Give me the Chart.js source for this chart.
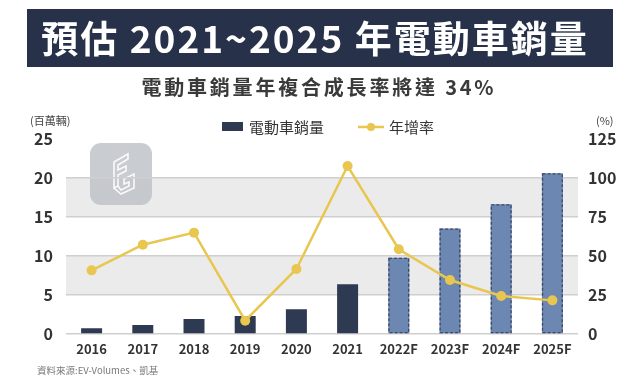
<!DOCTYPE html>
<html><head><meta charset="utf-8">
<script src="https://cdn.jsdelivr.net/npm/chart.js@4"></script>
<style>html,body{margin:0;padding:0;background:#fff;}#wrap{width:640px;height:383px;position:relative;}</style>
</head><body><div id="wrap"><canvas id="c" width="640" height="383"></canvas></div>
<script>
const categories = ['2016','2017','2018','2019','2020','2021','2022F','2023F','2024F','2025F'];
const salesValues = [0.75, 1.15, 1.92, 2.3, 3.16, 6.36, 9.76, 13.5, 16.6, 20.55];
const growthValues = [40.7, 57.1, 64.8, 8.5, 41.6, 107.4, 54.2, 34.5, 24.3, 21.5];
const isForecast = [false,false,false,false,false,false,true,true,true,true];
const leftTicks = [0,5,10,15,20,25];
const rightTicks = [0,25,50,75,100,125];
const titleText = '預估 2021~2025 年電動車銷量';
const subtitleText = '電動車銷量年複合成長率將達 34%';
const legendLabels = ['電動車銷量','年增率'];
const leftUnit = '(百萬輛)';
const rightUnit = '(%)';
const sourceText = '資料來源:EV-Volumes、凱基';

const FONT = '"Noto Sans CJK TC","Noto Sans",sans-serif';
const NAVY = '#2e3a52';
const FCAST = '#6c87b1';
const YELLOW = '#e8c64f';

function spacedText(ctx, text, cx, cy, spacing){
  ctx.letterSpacing = spacing + 'px';
  const w = ctx.measureText(text).width - spacing;
  ctx.textAlign = 'left';
  ctx.fillText(text, cx - w/2, cy);
  ctx.letterSpacing = '0px';
}

const deco = {
  id:'deco',
  beforeDraw(chart){
    const ctx = chart.ctx, ca = chart.chartArea, y = chart.scales.y;
    ctx.save();
    // bands
    ctx.fillStyle = '#ebebeb';
    [[5,10],[15,20]].forEach(([a,b])=>{
      const t = y.getPixelForValue(b), btm = y.getPixelForValue(a);
      ctx.fillRect(ca.left, t, ca.right-ca.left, btm-t);
    });
    // title box
    ctx.fillStyle = '#27324a';
    ctx.fillRect(27, 9, 586, 58);
    ctx.fillStyle = '#ffffff';
    ctx.font = 'bold 37px ' + FONT;
    ctx.textBaseline = 'middle';
    spacedText(ctx, titleText, 314, 38.5, 2);
    ctx.fillStyle = '#3a3a3a';
    ctx.font = 'bold 20px ' + FONT;
    spacedText(ctx, subtitleText, 317.5, 87.5, 2.8);
    // logo
    ctx.fillStyle = 'rgba(188,191,196,0.8)';
    ctx.beginPath();
    ctx.roundRect(90, 143, 62, 62, 11);
    ctx.fill();
    ctx.strokeStyle = 'rgba(255,255,255,0.9)';
    ctx.lineWidth = 1.6;
    ctx.beginPath();
    ctx.moveTo(114,162); ctx.lineTo(128,154); ctx.lineTo(128,159); ctx.lineTo(118,165);
    ctx.lineTo(118,170); ctx.lineTo(126,166); ctx.lineTo(126,171); ctx.lineTo(118,175);
    ctx.lineTo(118,186); ctx.lineTo(114,188); ctx.closePath(); ctx.stroke();
    ctx.beginPath();
    ctx.moveTo(114,188); ctx.lineTo(121,194); ctx.lineTo(134,188); ctx.lineTo(134,174);
    ctx.lineTo(124,179); ctx.lineTo(124,184); ctx.lineTo(129,182); ctx.lineTo(129,186);
    ctx.lineTo(121,190); ctx.lineTo(118,186); ctx.stroke();
    ctx.restore();
  },
  afterDatasetDraw(chart, args){
    if (args.index !== 0) return;
    const ctx = chart.ctx;
    const meta = chart.getDatasetMeta(0);
    ctx.save();
    ctx.strokeStyle = '#3b4966';
    ctx.lineWidth = 1.3;
    ctx.setLineDash([3,2]);
    meta.data.forEach((bar,i)=>{
      if(!isForecast[i]) return;
      const p = bar.getProps(['x','y','base','width'], true);
      const l = p.x - p.width/2, r = p.x + p.width/2;
      ctx.strokeRect(l+0.65, p.y+0.65, r-l-1.3, p.base-p.y-1.3);
    });
    ctx.restore();
  },
  afterDraw(chart){
    const ctx = chart.ctx;
    ctx.save();
    // legend
    ctx.fillStyle = NAVY;
    ctx.fillRect(222, 122, 21, 9);
    ctx.fillStyle = '#333';
    ctx.font = '15px ' + FONT;
    ctx.textAlign = 'left'; ctx.textBaseline = 'middle';
    ctx.fillText(legendLabels[0], 249, 127);
    ctx.strokeStyle = YELLOW; ctx.lineWidth = 2.5;
    ctx.beginPath(); ctx.moveTo(358,127); ctx.lineTo(384,127); ctx.stroke();
    ctx.fillStyle = YELLOW;
    ctx.beginPath(); ctx.arc(371,127,4,0,Math.PI*2); ctx.fill();
    ctx.fillStyle = '#333';
    ctx.fillText(legendLabels[1], 389, 127);
    // units
    ctx.fillStyle = '#444';
    ctx.font = '11px ' + FONT;
    ctx.textAlign = 'left';
    ctx.fillText(leftUnit, 30, 121);
    ctx.fillText(rightUnit, 596, 121);
    // source
    ctx.fillStyle = '#7a7a7a';
    ctx.font = '9.5px ' + FONT;
    ctx.fillText(sourceText, 37, 370);
    ctx.restore();
  }
};

new Chart(document.getElementById('c'), {
  data: {
    labels: categories,
    datasets: [
      {
        type:'bar', label: legendLabels[0], data: salesValues, yAxisID:'y', order: 1,
        backgroundColor: isForecast.map(f => f ? FCAST : NAVY),
        borderWidth: 0,
        categoryPercentage: 1, barPercentage: 0.41
      },
      {
        type:'line', label: legendLabels[1], data: growthValues, yAxisID:'y1', order: 0,
        borderColor: YELLOW, backgroundColor: YELLOW, borderWidth: 2.5,
        pointRadius: 5, pointBackgroundColor: YELLOW, pointBorderWidth: 0, tension: 0
      }
    ]
  },
  options: {
    responsive:false, animation:false, devicePixelRatio:1,
    layout: { padding: { top: 138.5, left: 0, right: 0, bottom: 0 } },
    plugins: { legend:{display:false}, tooltip:{enabled:false} },
    scales: {
      x: {
        grid:{display:false, drawTicks:false},
        border:{display:false},
        ticks:{ font:{family:FONT, size:13, weight:'bold'}, color:'#333', padding:7, maxRotation:0 },
        afterFit(s){ s.height = 49; }
      },
      y: {
        position:'left', min:0, max:25,
        afterBuildTicks(s){ s.ticks = leftTicks.map(v=>({value:v})); },
        grid:{ drawTicks:false, lineWidth:1.5, color: c => c.tick && c.tick.value === 25 ? 'rgba(0,0,0,0)' : '#cfcfcf' },
        border:{display:false},
        ticks:{ font:{family:FONT, size:16, weight:'bold'}, color:'#333', padding:13 },
        afterFit(s){ s.width = 66; }
      },
      y1: {
        position:'right', min:0, max:125,
        afterBuildTicks(s){ s.ticks = rightTicks.map(v=>({value:v})); },
        grid:{ display:false, drawTicks:false },
        border:{display:false},
        ticks:{ font:{family:FONT, size:16, weight:'bold'}, color:'#333', padding:10 },
        afterFit(s){ s.width = 62; }
      }
    }
  },
  plugins:[deco]
});
</script></body></html>
